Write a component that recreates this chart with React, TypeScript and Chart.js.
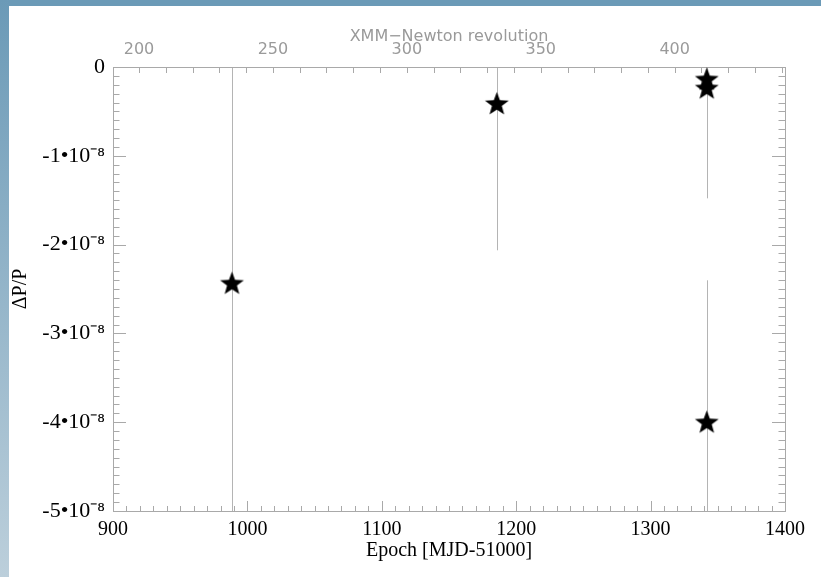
import React, { useEffect, useRef } from "react";
import { Chart, registerables } from "chart.js";

Chart.register(...registerables);

// ---- data (ΔP/P in units of 1e-8) ----
const epochs = [988.5, 1185.6, 1341.8, 1341.8, 1341.8];
const deltaPP = [-2.444, -0.421, -0.145, -0.245, -4.007];
const deltaPPErr = [3.0, 1.643, 1.2, 1.234, 1.605];

// ---- axes ----
const xTickValues = [900, 1000, 1100, 1200, 1300, 1400];
const xTickLabels = ["900", "1000", "1100", "1200", "1300", "1400"];
const yTickValues = [0, -1, -2, -3, -4, -5];
const yTickLabels = ["0", "-1•10⁻⁸", "-2•10⁻⁸", "-3•10⁻⁸", "-4•10⁻⁸", "-5•10⁻⁸"];
const revTickValues = [200, 250, 300, 350, 400];
const revTickLabels = ["200", "250", "300", "350", "400"];
const revAtXMin = 190.3;
const revAtXMax = 441.2;

const AXIS_GRAY = "#a9a9a9";
const SERIF = "'Liberation Serif', 'Times New Roman', serif";
const SANS = "'DejaVu Sans', sans-serif";

function makeStar(R: number, r: number, color: string) {
  const size = Math.ceil(2 * R + 2);
  const c = document.createElement("canvas");
  c.width = size;
  c.height = size;
  const g = c.getContext("2d")!;
  g.translate(size / 2, size / 2);
  g.beginPath();
  for (let i = 0; i < 10; i++) {
    const rad = i % 2 === 0 ? R : r;
    const a = -Math.PI / 2 + (i * Math.PI) / 5;
    const px = rad * Math.cos(a);
    const py = rad * Math.sin(a);
    if (i === 0) g.moveTo(px, py);
    else g.lineTo(px, py);
  }
  g.closePath();
  g.fillStyle = color;
  g.fill();
  return c;
}

const framePlugin = {
  id: "idlFrame",
  beforeDatasetsDraw(chart: any) {
    const { ctx, chartArea } = chart;
    const { left, right, top, bottom } = chartArea;
    const xs = chart.scales.x;
    const ys = chart.scales.y;
    const x2 = chart.scales.x2;
    ctx.save();
    ctx.lineWidth = 1;
    ctx.strokeStyle = AXIS_GRAY;

    // error bars
    ctx.save();
    ctx.beginPath();
    ctx.rect(left, top, right - left, bottom - top);
    ctx.clip();
    ctx.strokeStyle = "#b4b4b4";
    for (let i = 0; i < epochs.length; i++) {
      const px = Math.round(xs.getPixelForValue(epochs[i])) + 0.5;
      const y1 = ys.getPixelForValue(deltaPP[i] + deltaPPErr[i]);
      const y2 = ys.getPixelForValue(deltaPP[i] - deltaPPErr[i]);
      ctx.beginPath();
      ctx.moveTo(px, y1);
      ctx.lineTo(px, y2);
      ctx.stroke();
    }
    ctx.restore();

    // frame
    ctx.strokeRect(Math.round(left) + 0.5, Math.round(top) + 0.5, Math.round(right - left), Math.round(bottom - top));

    ctx.beginPath();
    // bottom ticks every 10, major every 100
    for (let k = 0; k <= 50; k++) {
      const v = 900 + k * 10;
      const px = Math.round(xs.getPixelForValue(v)) + 0.5;
      const len = k % 10 === 0 ? 10 : 5;
      ctx.moveTo(px, bottom);
      ctx.lineTo(px, bottom - len);
    }
    // top ticks every 10 revolutions
    for (let rv = Math.ceil(revAtXMin / 10) * 10; rv <= revAtXMax; rv += 10) {
      const px = Math.round(x2.getPixelForValue(rv)) + 0.5;
      ctx.moveTo(px, top);
      ctx.lineTo(px, top + 6);
    }
    // left/right ticks every 0.1, major every 1
    for (let k = 0; k <= 50; k++) {
      const v = -k / 10;
      const py = Math.round(ys.getPixelForValue(v)) + 0.5;
      const len = k % 10 === 0 ? 13 : 6.5;
      ctx.moveTo(left, py);
      ctx.lineTo(left + len, py);
      ctx.moveTo(right, py);
      ctx.lineTo(right - len, py);
    }
    ctx.stroke();
    ctx.restore();
  },
};

export default function App() {
  const ref = useRef<HTMLCanvasElement | null>(null);

  useEffect(() => {
    document.body.style.margin = "0";
    const canvas = ref.current!;
    const star = makeStar(12.5, 5.2, "#000");
    const chart = new Chart(canvas, {
      type: "scatter",
      data: {
        datasets: [
          {
            data: epochs.map((x, i) => ({ x, y: deltaPP[i] })),
            pointStyle: star as any,
            pointRadius: 12,
            backgroundColor: "#000",
            borderColor: "#000",
            clip: false as any,
          },
        ],
      },
      options: {
        animation: false,
        responsive: false,
        devicePixelRatio: 1,
        layout: { padding: { left: 0, right: 36, top: 0, bottom: 0 } },
        plugins: { legend: { display: false }, tooltip: { enabled: false } },
        scales: {
          x: {
            type: "linear",
            position: "bottom",
            min: 900,
            max: 1400,
            grid: { display: false, drawTicks: false },
            border: { display: false },
            afterBuildTicks: (s: any) => {
              s.ticks = xTickValues.map((v) => ({ value: v }));
            },
            ticks: {
              padding: 7,
              color: "#000",
              maxRotation: 0,
              autoSkip: false,
              font: { family: SERIF, size: 20 },
              callback: (v: any) => {
                const i = xTickValues.indexOf(Math.round(Number(v)));
                return i >= 0 ? xTickLabels[i] : "";
              },
            },
            title: {
              display: true,
              text: "Epoch [MJD-51000]",
              color: "#000",
              font: { family: SERIF, size: 20 },
              padding: { top: 0, bottom: 14 },
            },
            afterFit: (s: any) => {
              s.height = 66;
            },
          },
          x2: {
            type: "linear",
            axis: "x",
            position: "top",
            min: revAtXMin,
            max: revAtXMax,
            grid: { display: false, drawTicks: false },
            border: { display: false },
            afterBuildTicks: (s: any) => {
              s.ticks = revTickValues.map((v) => ({ value: v }));
            },
            ticks: {
              padding: 8,
              color: "#9a9a9a",
              maxRotation: 0,
              autoSkip: false,
              font: { family: SANS, size: 16 },
              callback: (v: any) => {
                const i = revTickValues.indexOf(Math.round(Number(v)));
                return i >= 0 ? revTickLabels[i] : "";
              },
            },
            title: {
              display: true,
              text: "XMM−Newton revolution",
              color: "#9a9a9a",
              font: { family: SANS, size: 16 },
              padding: { top: 21, bottom: 0 },
            },
            afterFit: (s: any) => {
              s.height = 61;
            },
          } as any,
          y: {
            type: "linear",
            position: "left",
            min: -5,
            max: 0,
            grid: { display: false, drawTicks: false },
            border: { display: false },
            afterBuildTicks: (s: any) => {
              s.ticks = yTickValues.map((v) => ({ value: v }));
            },
            ticks: {
              padding: 8,
              color: "#000",
              autoSkip: false,
              font: { family: SERIF, size: 22 },
              callback: (v: any) => {
                const i = yTickValues.indexOf(Math.round(Number(v)));
                return i >= 0 ? yTickLabels[i] : "";
              },
            },
            title: {
              display: true,
              text: "ΔP/P",
              color: "#000",
              font: { family: SERIF, size: 20, lineHeight: 1.2 },
              padding: { top: 0, bottom: 0 },
            },
            afterFit: (s: any) => {
              s.width = 104;
            },
          },
        },
      },
      plugins: [framePlugin],
    });
    return () => chart.destroy();
  }, []);

  return (
    <div style={{ position: "relative", width: 821, height: 577, overflow: "hidden", background: "#fff" }}>
      <div style={{ position: "absolute", left: 0, top: 0, width: 821, height: 6, background: "#6b9ab7" }} />
      <div
        style={{
          position: "absolute",
          left: 0,
          top: 0,
          width: 9,
          height: 577,
          background: "linear-gradient(to bottom, #6b9ab7, #bccfdb)",
        }}
      />
      <canvas
        ref={ref}
        width={812}
        height={571}
        style={{ position: "absolute", left: 9, top: 6, width: 812, height: 571, background: "#fff" }}
      />
    </div>
  );
}
